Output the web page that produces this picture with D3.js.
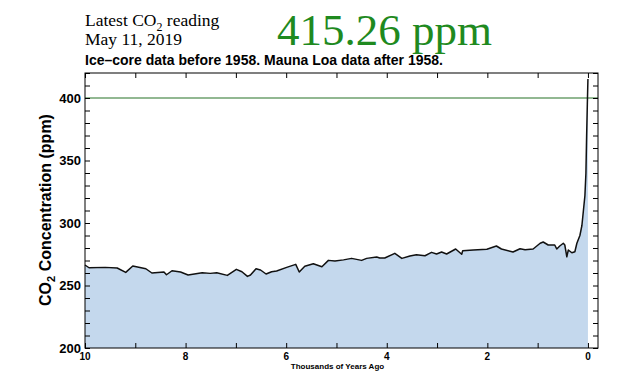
<!DOCTYPE html>
<html>
<head>
<meta charset="utf-8">
<script src="https://cdn.jsdelivr.net/npm/d3@7"></script>
<style>
  body { margin: 0; background: #fff; }
  svg text { fill: #000; }
</style>
</head>
<body>
<div id="plot"></div>
<script>
// thousands of years ago
const yearsAgo = [10.0, 9.92, 9.6, 9.36, 9.19, 9.05, 8.79, 8.67, 8.43, 8.38, 8.27, 8.10, 7.95, 7.67,
  7.51, 7.38, 7.17, 6.99, 6.88, 6.77, 6.71, 6.60, 6.51, 6.40, 6.29, 6.19, 5.99, 5.81, 5.74, 5.63,
  5.46, 5.29, 5.16, 5.03, 4.86, 4.70, 4.50, 4.40, 4.20, 4.14, 4.04, 3.84, 3.70, 3.54, 3.41, 3.24,
  3.11, 3.01, 2.91, 2.81, 2.63, 2.51, 2.49, 2.28, 2.01, 1.82, 1.72, 1.49, 1.35, 1.25, 1.09, 0.95,
  0.89, 0.79, 0.66, 0.62, 0.56, 0.49, 0.46, 0.42, 0.39, 0.32, 0.26, 0.22, 0.16, 0.12, 0.09, 0.06,
  0.04, 0.026, 0.012, 0];
// CO2 in ppm
const co2 = [266.4, 264.2, 264.5, 264, 260.5, 265.6, 263.4, 260, 260.8, 258.6, 261.8, 260.8, 258.4, 260.2,
  259.7, 260.2, 258.1, 262.9, 261, 257.3, 258.4, 263.4, 262.4, 259.2, 261, 261.6, 264.5, 266.9, 260.8, 265.4,
  267.4, 265, 270.1, 269.6, 270.5, 271.7, 270.1, 271.7, 272.8, 272, 272, 275.7, 271.7, 273.6, 274.6, 273.8,
  276.5, 275.2, 276.8, 275.2, 279.2, 275, 277.8, 278.4, 279, 281.6, 279.2, 276.8, 279.4, 278.6, 279.2, 283.8,
  284.8, 282.4, 282.4, 279.2, 281.6, 283.8, 282.4, 273, 278.4, 276.2, 277, 283.8, 290, 298, 310, 322,
  340, 370, 395, 415.26];

const xTicks = d3.range(0, 11, 1);
const xLabels = [10, 8, 6, 4, 2, 0];
const yTicks = d3.range(200, 421, 10);
const yLabels = [200, 250, 300, 350, 400];
const referenceLevel = 400;

const width = 640, height = 382;
const margin = { top: 73, right: 42, bottom: 34, left: 85 };
const innerWidth = width - margin.left - margin.right;
const innerHeight = height - margin.top - margin.bottom;

const svg = d3.select("#plot").append("svg")
  .attr("width", width)
  .attr("height", height);

// header
const head = svg.append("g").style("font-family", "'Liberation Serif', 'Times New Roman', serif");
const l1 = head.append("text").attr("x", 85).attr("y", 26).style("font-size", "17.5px");
l1.append("tspan").text("Latest CO");
l1.append("tspan").attr("dy", 5).style("font-size", "12px").text("2");
l1.append("tspan").attr("dy", -5).text(" reading");
head.append("text").attr("x", 85).attr("y", 45).style("font-size", "17.5px").text("May 11, 2019");
head.append("text").attr("x", 277).attr("y", 45)
  .style("font-size", "45px").style("fill", "#1f8a1f")
  .text("415.26 ppm");

svg.append("text")
  .attr("x", 85).attr("y", 65)
  .style("font-family", "'Liberation Sans', Arial, sans-serif")
  .style("font-weight", "bold").style("font-size", "14px")
  .text("Ice\u2013core data before 1958. Mauna Loa data after 1958.");

const g = svg.append("g").attr("transform", `translate(${margin.left},${margin.top})`);

const x = d3.scaleLinear().domain([10, -0.2]).range([0, innerWidth]);
const y = d3.scaleLinear().domain([200, 420]).range([innerHeight, 0]);

const data = yearsAgo.map((t, i) => ({ t: t, v: co2[i] }));

g.append("path")
  .datum(data)
  .attr("fill", "#c4d8ed")
  .attr("d", d3.area().x(d => x(d.t)).y0(innerHeight).y1(d => y(d.v)));

g.append("line")
  .attr("x1", 0).attr("x2", innerWidth)
  .attr("y1", y(referenceLevel)).attr("y2", y(referenceLevel))
  .attr("stroke", "#267326").attr("stroke-width", 1.2);

g.append("path")
  .datum(data)
  .attr("fill", "none")
  .attr("stroke", "#111")
  .attr("stroke-width", 1.5)
  .attr("stroke-linejoin", "round")
  .attr("d", d3.line().x(d => x(d.t)).y(d => y(d.v)));

// tick marks on all four sides, pointing inward
const fontSans = "'Liberation Sans', Arial, sans-serif";

g.append("g").call(d3.axisLeft(y).tickValues(yTicks).tickSize(-5).tickFormat(""));
g.append("g").attr("transform", `translate(${innerWidth},0)`)
  .call(d3.axisRight(y).tickValues(yTicks).tickSize(-5).tickFormat(""));
g.append("g").attr("transform", `translate(0,${innerHeight})`)
  .call(d3.axisBottom(x).tickValues(xTicks).tickSize(-5).tickFormat(""));
g.append("g").call(d3.axisTop(x).tickValues(xTicks).tickSize(-5).tickFormat(""));

g.selectAll(".domain").remove();
g.selectAll(".tick text").remove();
g.selectAll(".tick line").attr("stroke", "#000");

// tick labels
g.append("g").selectAll("text")
  .data(yLabels)
  .join("text")
  .attr("x", -4)
  .attr("y", d => y(d))
  .attr("dy", "0.35em")
  .attr("text-anchor", "end")
  .style("font-family", fontSans).style("font-weight", "bold").style("font-size", "13px")
  .text(d => d);

g.append("g").selectAll("text")
  .data(xLabels)
  .join("text")
  .attr("x", d => x(d))
  .attr("y", innerHeight + 12)
  .attr("text-anchor", "middle")
  .style("font-family", fontSans).style("font-weight", "bold").style("font-size", "10px")
  .text(d => d);

g.append("rect")
  .attr("width", innerWidth).attr("height", innerHeight)
  .attr("fill", "none").attr("stroke", "#000").attr("stroke-width", 1);

g.append("text")
  .attr("x", innerWidth / 2 - 4).attr("y", innerHeight + 21)
  .attr("text-anchor", "middle")
  .style("font-family", fontSans).style("font-weight", "bold").style("font-size", "8px")
  .text("Thousands of Years Ago");

const yl = svg.append("text")
  .attr("transform", "translate(51,210) rotate(-90)")
  .attr("text-anchor", "middle")
  .style("font-family", fontSans).style("font-weight", "bold").style("font-size", "16px");
yl.append("tspan").text("CO");
yl.append("tspan").attr("dy", 4).style("font-size", "11px").text("2");
yl.append("tspan").attr("dy", -4).text(" Concentration (ppm)");
</script>
</body>
</html>
